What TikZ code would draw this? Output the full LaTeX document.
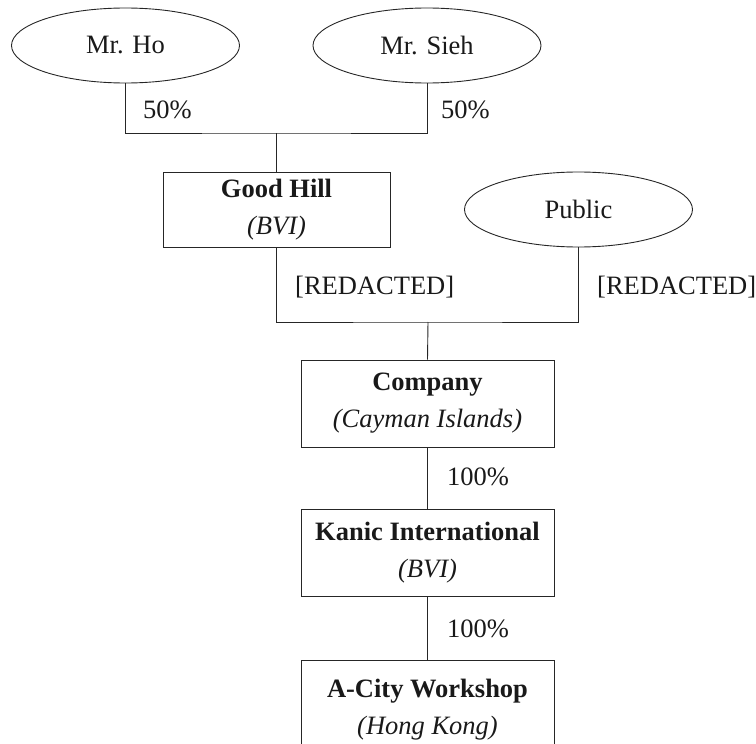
\documentclass[tikz,border=0pt]{standalone}
\usepackage{fontspec}
\setmainfont{Liberation Serif}
\usetikzlibrary{shapes.geometric}
\begin{document}
\begin{tikzpicture}[x=1pt,y=-1pt,
  every node/.style={font=\fontsize{26.5}{37}\selectfont, text=black!90},
  owner/.style={draw=black!85, line width=0.9pt, ellipse, minimum width=228pt, minimum height=75pt, inner sep=0pt},
  entity/.style={draw=black!85, line width=0.9pt, rectangle, align=center, inner sep=0pt},
  pct/.style={anchor=base west, inner sep=0pt},
  link/.style={draw=black!85, line width=0.9pt}]
\useasboundingbox (0,0) rectangle (756,744);
\clip (0,0) rectangle (756,744);
% owners
\node[owner] (ho) at (125.5,45.5) {Mr. Ho};
\node[owner] (sieh) at (427,45.5) {Mr. Sieh};
\node[owner] (pub) at (578.5,209.5) {Public};
% entities
\node[entity, minimum width=227pt, minimum height=75pt] (gh) at (276.5,209.5) {\textbf{Good Hill}\\\textit{(BVI)}};
\node[entity, minimum width=253pt, minimum height=87pt] (co) at (427.5,403.5) {\textbf{Company}\\\textit{(Cayman Islands)}};
\node[entity, minimum width=253pt, minimum height=87pt] (ka) at (427.5,552.5) {\textbf{Kanic International}\\\textit{(BVI)}};
\node[entity, minimum width=253pt, minimum height=100pt] (ac) at (427.5,710) {\textbf{A-City Workshop}\\\textit{(Hong Kong)}};
% junctions
\coordinate (j1) at (276.5,133);
\coordinate (j2) at (428,322);
% connectors
\draw[link] (ho.south) |- (j1) -| (sieh.south);
\draw[link] (j1) -- (gh.north);
\draw[link] (gh.south) |- (j2) -| (pub.south);
\draw[link] (j2) -- (co.north);
\draw[link] (co.south) -- (ka.north);
\draw[link] (ka.south) -- (ac.north);
% percentages
\node[pct] (p1) at (143,118) {50\%};
\node[pct] (p2) at (441,118) {50\%};
\node[pct] (p3) at (295,294) {[REDACTED]};
\node[pct] (p4) at (597,294) {[REDACTED]};
\node[pct] (p5) at (447,485) {100\%};
\node[pct] (p6) at (447,637) {100\%};
\end{tikzpicture}
\end{document}
